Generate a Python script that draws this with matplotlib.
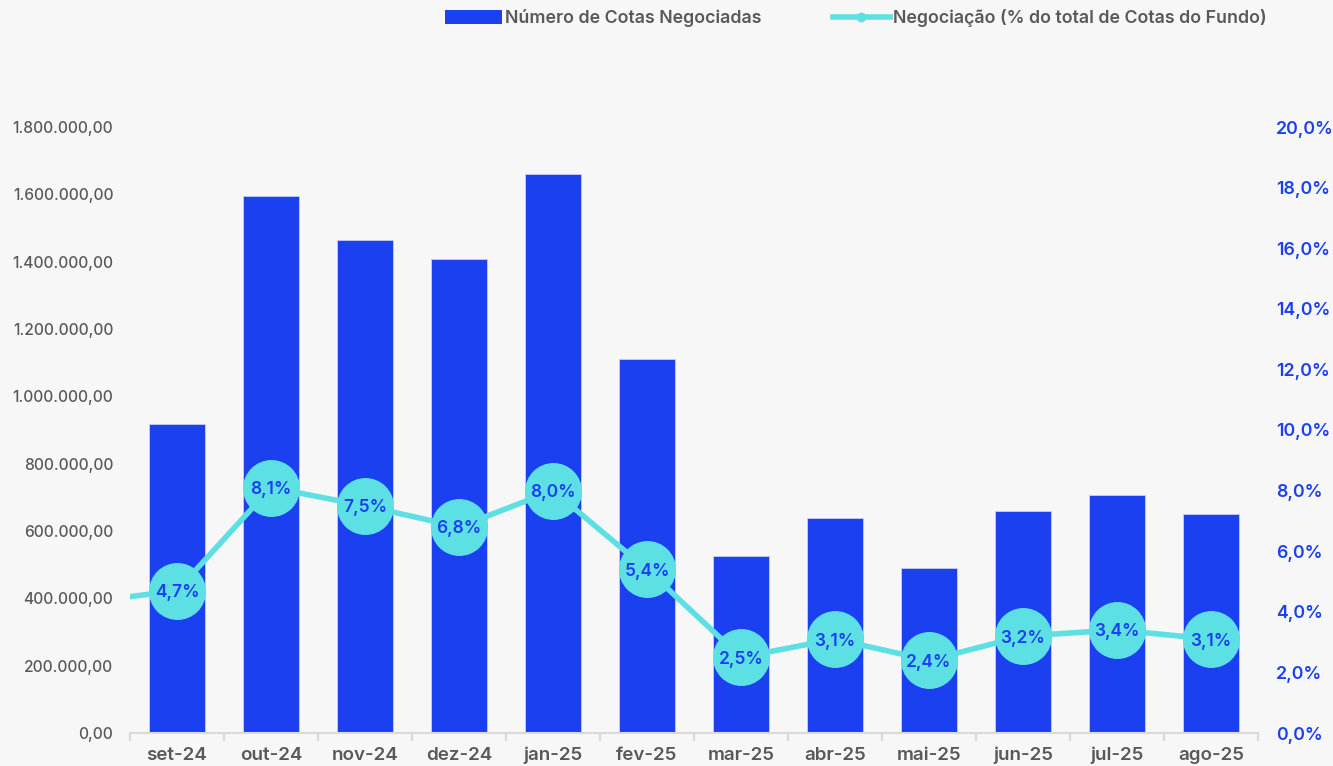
import matplotlib
matplotlib.use("Agg")
import matplotlib.pyplot as plt
from matplotlib.ticker import FuncFormatter, FixedLocator, NullFormatter
from matplotlib.patches import Patch
from matplotlib.lines import Line2D

categories = ["set-24", "out-24", "nov-24", "dez-24", "jan-25", "fev-25",
              "mar-25", "abr-25", "mai-25", "jun-25", "jul-25", "ago-25"]
cotas = [918000, 1595000, 1464000, 1408000, 1660000, 1111000,
         526000, 639000, 490000, 659000, 707000, 650000]
pct = [4.7, 8.1, 7.5, 6.8, 8.0, 5.4, 2.5, 3.1, 2.4, 3.2, 3.4, 3.1]
prev_pct = 4.3  # month before the window (line enters from the left edge)

BG = "#f7f7f7"
BLUE = "#1b40f0"
CYAN = "#5ce0e3"
GRAY = "#595959"

plt.rcParams['font.family'] = ['Inter', 'DejaVu Sans']

fig = plt.figure(figsize=(13.33, 7.66), dpi=100, facecolor=BG)
ax = fig.add_axes([130/1333, 1-733/766, (1258-130)/1333, (733-127)/766])
ax.set_facecolor(BG)
x = list(range(len(categories)))
ax.bar(x, cotas, width=0.6, color=BLUE, edgecolor="#c9cdf5", linewidth=0.6, zorder=2)
ax.set_xlim(-0.5, len(categories)-0.5)
ax.set_ylim(0, 1800000)
ax.set_yticks(range(0, 1800001, 200000))

def fmt_br(v, pos):
    s = f"{v:,.2f}"
    return s.replace(",", "X").replace(".", ",").replace("X", ".")
ax.yaxis.set_major_formatter(FuncFormatter(fmt_br))
ax.tick_params(axis="y", length=0, labelsize=11.2, labelcolor=GRAY, pad=12)
for lbl in ax.get_yticklabels():
    lbl.set_fontweight("medium")

ax.set_xticks(x)
ax.set_xticklabels(categories)
ax.tick_params(axis="x", which="major", length=0, labelsize=13.5, labelcolor=GRAY, pad=10)
for lbl in ax.get_xticklabels():
    lbl.set_fontweight("semibold")
ax.xaxis.set_minor_locator(FixedLocator([i - 0.5 for i in range(len(categories)+1)]))
ax.xaxis.set_minor_formatter(NullFormatter())
ax.tick_params(axis="x", which="minor", length=6, color="#d9d9d9", width=1.5, direction="out")

for s in ["top", "right", "left"]:
    ax.spines[s].set_visible(False)
ax.spines["bottom"].set_color("#d9d9d9")
ax.spines["bottom"].set_linewidth(1.5)

ax2 = ax.twinx()
ax2.set_ylim(0, 20)
ax2.set_yticks(range(0, 21, 2))
ax2.yaxis.set_major_formatter(FuncFormatter(lambda v, p: f"{v:.1f}%".replace(".", ",")))
ax2.tick_params(axis="y", length=0, labelsize=12.8, labelcolor=BLUE, pad=13)
for lbl in ax2.get_yticklabels():
    lbl.set_fontweight("semibold")
for s in ax2.spines.values():
    s.set_visible(False)

ax2.plot([-1] + x, [prev_pct] + pct, color=CYAN, linewidth=4, zorder=3, clip_on=True)
ax2.plot(x, pct, linestyle="none", marker="o", markersize=40, color=CYAN, zorder=4)
for xi, v in zip(x, pct):
    ax2.text(xi, v, f"{v:.1f}%".replace(".", ","), ha="center", va="center_baseline",
             fontsize=12.5, color=BLUE, fontweight="semibold", zorder=5)

handles = [Patch(facecolor=BLUE, edgecolor="none"),
           Line2D([0], [0], color=CYAN, linewidth=4, marker="o", markersize=6)]
labels = ["Número de Cotas Negociadas", "Negociação (% do total de Cotas do Fundo)"]
leg = fig.legend(handles, labels, loc="center", bbox_to_anchor=(856/1333, 1-18/766),
                 ncol=2, frameon=False, fontsize=12.8, handlelength=3.2, handleheight=0.8,
                 columnspacing=4.0, handletextpad=0.2)
for t in leg.get_texts():
    t.set_color(GRAY)
    t.set_fontweight("semibold")

fig.savefig("out.png", dpi=100, facecolor=BG)
